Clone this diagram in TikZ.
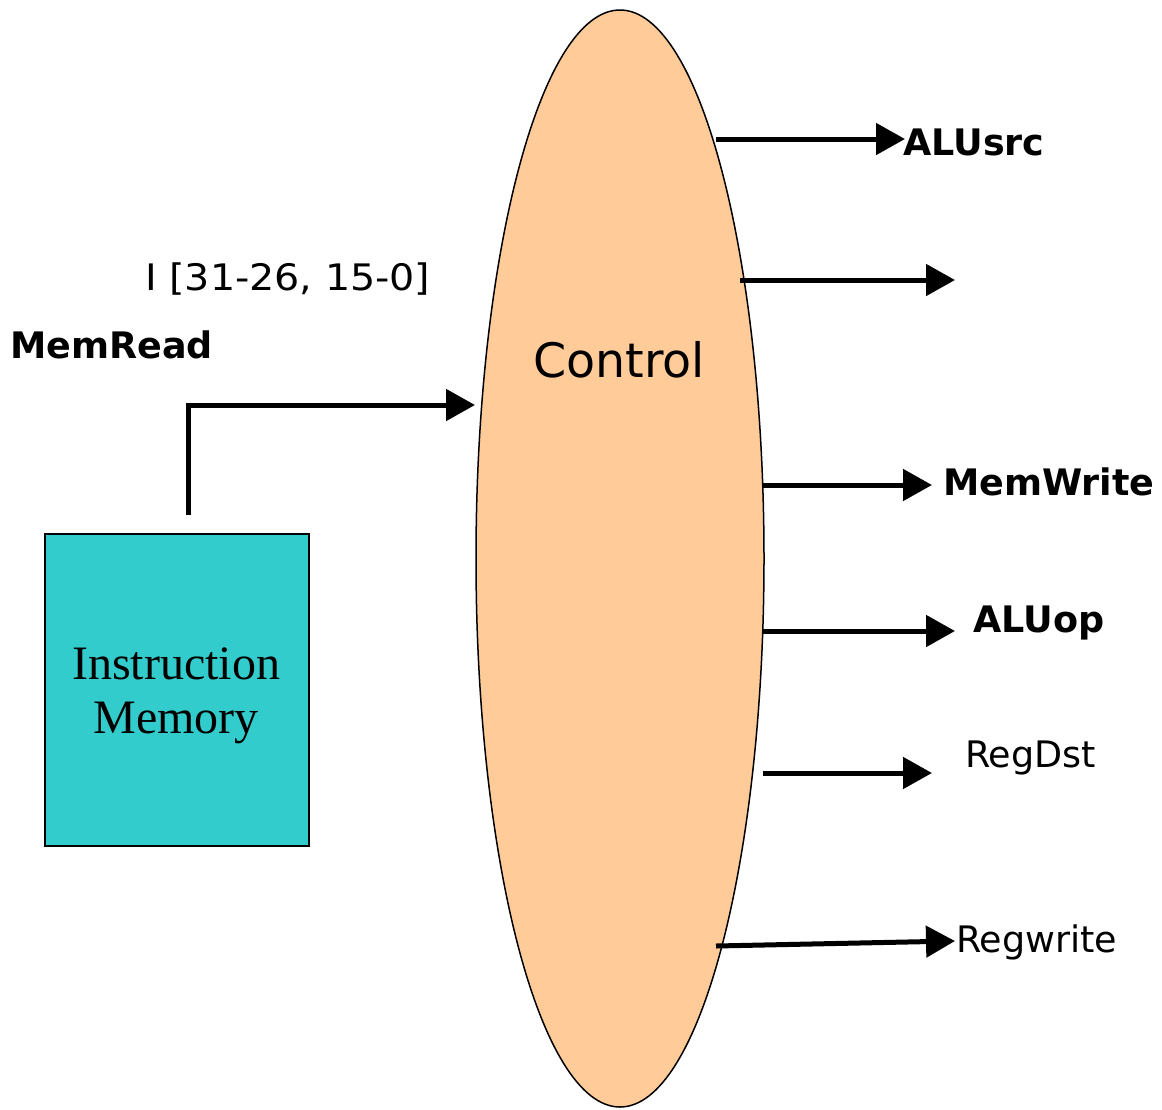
\documentclass[tikz,border=0pt]{standalone}
\usepackage{fontspec}
\setmainfont{DejaVu Sans}
\newfontfamily\serifrm{Liberation Serif}
\usetikzlibrary{shapes.geometric,arrows.meta}
\definecolor{peach}{HTML}{FFCC99}
\definecolor{teal2}{HTML}{33CCCC}
\tikzset{
  sig/.style={line width=5pt,-{Triangle[length=29pt,width=31pt]}},
  lbl/.style={anchor=base west,inner sep=0pt,font=\fontsize{36.5}{40}\selectfont},
  blbl/.style={lbl,font=\fontsize{36.5}{40}\selectfont\bfseries},
}
\begin{document}
\begin{tikzpicture}[x=1pt,y=-1pt]
\useasboundingbox (0,0) rectangle (1162,1109);
% control ellipse
\node[ellipse,draw=black,line width=1.5pt,fill=peach,inner sep=0pt,
      minimum width=288pt,minimum height=1097pt] (ctrl) at (620,558.5) {};
\node[anchor=base west,inner sep=0pt,font=\fontsize{47.5}{50}\selectfont] (ctrltxt) at (533,377) {Control};
% instruction memory
\node[draw=black,line width=1.5pt,fill=teal2,minimum width=264pt,minimum height=312pt,
      inner sep=0pt,anchor=north west] (imem) at (44,533) {};
\node[align=center,font=\serifrm\fontsize{48}{54}\selectfont,inner sep=0pt] (imemtxt) at (176,696) {Instruction\\Memory};
% input labels
\node[anchor=base west,inner sep=0pt,font=\fontsize{36.5}{40}\selectfont] (ilab) at (145,290) {\scalebox{1.085}[1]{I [31-26, 15-0]}};
\node[blbl] (memread) at (10,358) {MemRead};
% input arrow
\coordinate (inS) at (188,515);
\coordinate (inC) at (188,405);
\coordinate (inT) at (475,405);
\draw[sig] (inS) -- (inC) -- (inT);
% outputs
\coordinate (s1) at (716,139);  \coordinate (t1) at (905,139);
\coordinate (s2) at (740,280);  \coordinate (t2) at (955,280);
\coordinate (s3) at (763,485);  \coordinate (t3) at (932,485);
\coordinate (s4) at (763,631);  \coordinate (t4) at (955,631);
\coordinate (s5) at (763,773);  \coordinate (t5) at (932,773);
\coordinate (s6) at (716,946);  \coordinate (t6) at (955,941);
\draw[sig] (s1) -- (t1);
\draw[sig] (s2) -- (t2);
\draw[sig] (s3) -- (t3);
\draw[sig] (s4) -- (t4);
\draw[sig] (s5) -- (t5);
\draw[sig] (s6) -- (t6);
\node[blbl] (alusrc) at (903,155) {ALUsrc};
\node[blbl] (memwrite) at (943,495) {MemWrite};
\node[blbl] (aluop) at (973,632) {ALUop};
\node[lbl] (regdst) at (965,767) {RegDst};
\node[lbl] (regwrite) at (956,952) {Regwrite};
\end{tikzpicture}
\end{document}
